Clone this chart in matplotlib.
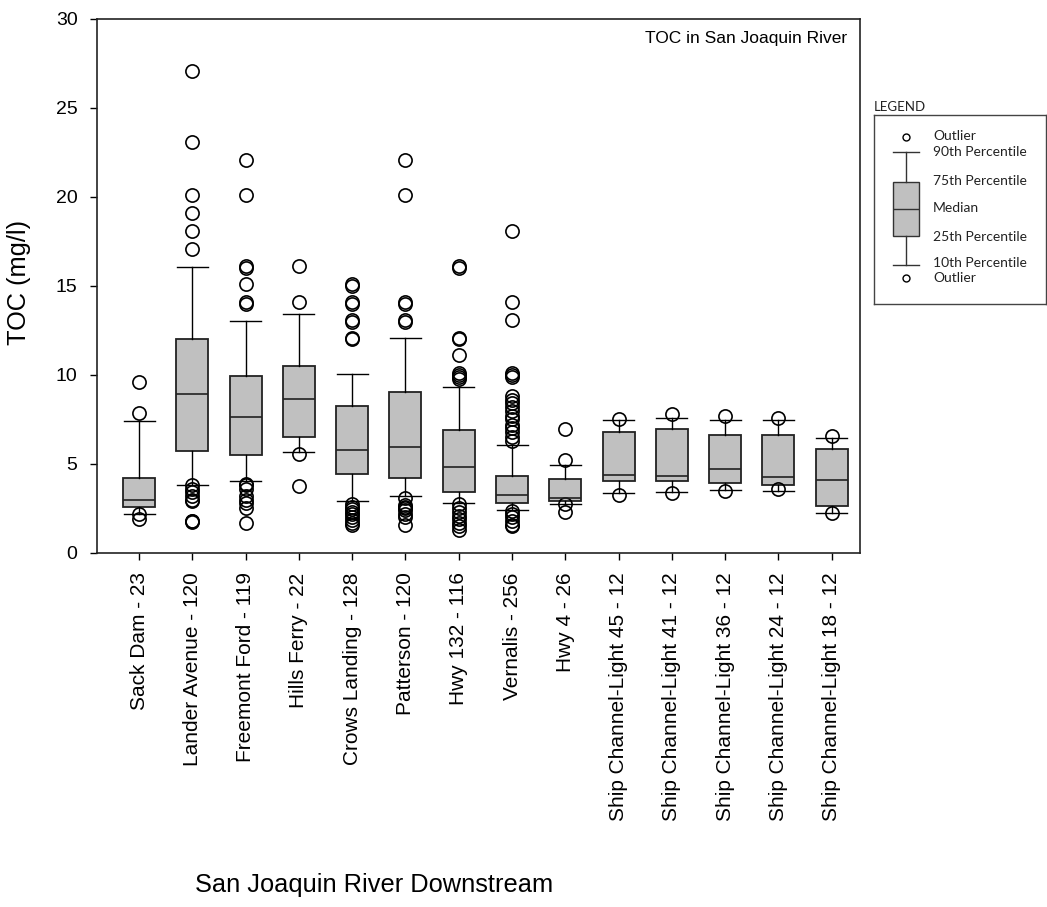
import matplotlib
matplotlib.use('Agg')
import matplotlib.pyplot as plt

plt.rcParams['font.family'] = ['Liberation Sans', 'DejaVu Sans']

# Stationer (uppstrom -> nedstrom) och antal prov
stations = ['Sack Dam - 23', 'Lander Avenue - 120', 'Freemont Ford - 119', 'Hills Ferry - 22',
            'Crows Landing - 128', 'Patterson - 120', 'Hwy 132 - 116', 'Vernalis - 256',
            'Hwy 4 - 26', 'Ship Channel-Light 45 - 12', 'Ship Channel-Light 41 - 12',
            'Ship Channel-Light 36 - 12', 'Ship Channel-Light 24 - 12', 'Ship Channel-Light 18 - 12']

# percentiler avlasta fran bilden (mg/l)
p10 = [2.17, 3.83, 4.04, 5.65, 2.92, 3.21, 2.81, 2.42, 2.75, 3.36, 3.45, 3.55, 3.51, 2.25]
p25 = [2.58, 5.73, 5.48, 6.52, 4.44, 4.21, 3.42, 2.81, 2.92, 4.02, 4.02, 3.91, 3.83, 2.62]
median = [2.96, 8.94, 7.65, 8.65, 5.81, 5.94, 4.81, 3.23, 3.10, 4.38, 4.32, 4.74, 4.28, 4.11]
p75 = [4.21, 12.02, 9.94, 10.52, 8.23, 9.04, 6.92, 4.31, 4.17, 6.77, 6.94, 6.62, 6.62, 5.83]
p90 = [7.44, 16.04, 13.02, 13.44, 10.04, 12.06, 9.31, 6.06, 4.96, 7.49, 7.60, 7.45, 7.47, 6.47]

outliers = [
    [9.6, 7.85, 2.2, 1.9],
    [27.1, 23.1, 20.1, 19.1, 18.1, 17.1, 3.8, 3.6, 3.4, 3.2, 3.0, 2.9, 1.8, 1.8, 1.75],
    [22.1, 20.1, 16.1, 16.0, 15.1, 14.1, 14.0, 3.9, 3.8, 3.6, 3.2, 3.0, 2.8, 2.5, 1.7],
    [16.1, 14.1, 5.55, 3.75],
    [15.1, 15.0, 14.1, 14.0, 13.1, 13.0, 12.1, 12.0, 2.75, 2.6, 2.45, 2.3, 2.2, 2.0, 1.85, 1.7, 1.6],
    [22.1, 20.1, 14.1, 14.0, 13.1, 13.0, 3.1, 2.7, 2.6, 2.5, 2.4, 2.2, 2.0, 1.6],
    [16.1, 16.0, 12.1, 12.0, 11.1, 10.1, 10.0, 9.9, 9.8, 2.75, 2.5, 2.3, 2.1, 1.9, 1.7, 1.5, 1.3],
    [18.1, 14.1, 13.1, 10.1, 10.0, 9.9, 8.8, 8.6, 8.4, 8.2, 8.0, 7.7, 7.5, 7.2, 7.0, 6.8, 6.5, 6.3,
     2.35, 2.2, 2.0, 1.8, 1.6, 1.5],
    [6.98, 5.2, 2.75, 2.33],
    [7.55, 3.26],
    [7.8, 3.38],
    [7.7, 3.5],
    [7.6, 3.57],
    [6.6, 2.25],
]

legend_labels = ['Outlier', '90th Percentile', '75th Percentile', 'Median',
                 '25th Percentile', '10th Percentile', 'Outlier']

box_fill = '#c0c0c0'

stats = []
for i in range(len(stations)):
    stats.append(dict(label=stations[i], whislo=p10[i], q1=p25[i], med=median[i],
                      q3=p75[i], whishi=p90[i], fliers=outliers[i]))

fig = plt.figure(figsize=(10.47, 9.07), dpi=100)
ax = fig.add_axes([0.0926, 0.3903, 0.7288, 0.5888])

positions = list(range(1, len(stations) + 1))
ax.bxp(stats, positions=positions, widths=0.6, capwidths=0.58, patch_artist=True,
       boxprops=dict(facecolor=box_fill, edgecolor='#222222', linewidth=1.3),
       medianprops=dict(color='#222222', linewidth=1.2),
       whiskerprops=dict(color='black', linewidth=1.0),
       capprops=dict(color='black', linewidth=1.0),
       flierprops=dict(marker='o', markerfacecolor='none', markeredgecolor='black',
                       markersize=9.5, markeredgewidth=1.2))

ax.set_xlim(0.21, 14.53)
ax.set_ylim(0, 30)
ax.set_yticks([0, 5, 10, 15, 20, 25, 30])
ax.tick_params(axis='x', labelrotation=90, labelsize=15, length=5, width=1, pad=9, direction='out')
ax.tick_params(axis='y', labelsize=14, length=5, width=1, pad=9, direction='out')
for s in ax.spines.values():
    s.set_linewidth(1.2)
    s.set_color('#222222')

ax.set_ylabel('TOC (mg/l)', fontsize=18.3)
ax.yaxis.set_label_coords(-0.087, 0.507)
ax.set_xlabel('San Joaquin River Downstream', fontsize=18.3, va='top')
ax.xaxis.set_label_coords(0.363, -0.6)

ax.text(0.983, 0.964, 'TOC in San Joaquin River', transform=ax.transAxes,
        ha='right', va='center', fontsize=12.5)

# Legend-ruta till hoger, ritad som en liten boxplot
lax = fig.add_axes([874 / 1047, (907 - 304) / 907, 172 / 1047, 189 / 907])
lax.set_xlim(0, 172)
lax.set_ylim(-95, 94)
key = dict(whislo=-56, q1=-27, med=0, q3=27, whishi=57, fliers=[72, -69])
lax.bxp([key], positions=[32], widths=26, capwidths=26, patch_artist=True, manage_ticks=False,
        boxprops=dict(facecolor=box_fill, edgecolor='#333333', linewidth=1.0),
        medianprops=dict(color='#333333', linewidth=1.0),
        whiskerprops=dict(color='#333333', linewidth=1.0),
        capprops=dict(color='#333333', linewidth=1.0),
        flierprops=dict(marker='o', markerfacecolor='none', markeredgecolor='black',
                        markersize=5, markeredgewidth=1.0))
label_y = [73, 57, 28, 1, -28, -54, -69]
for txt, yy in zip(legend_labels, label_y):
    lax.text(59, yy, txt, ha='left', va='center', fontsize=10, family=['Lato', 'DejaVu Sans'],
             color='#222222')
lax.set_xticks([])
lax.set_yticks([])
for s in lax.spines.values():
    s.set_linewidth(1.0)
    s.set_color('#444444')
fig.text(874 / 1047, (907 - 107) / 907, 'LEGEND', ha='left', va='center', fontsize=9.5,
         family=['Lato', 'DejaVu Sans'], color='#222222')

fig.savefig('out.png', dpi=100)
